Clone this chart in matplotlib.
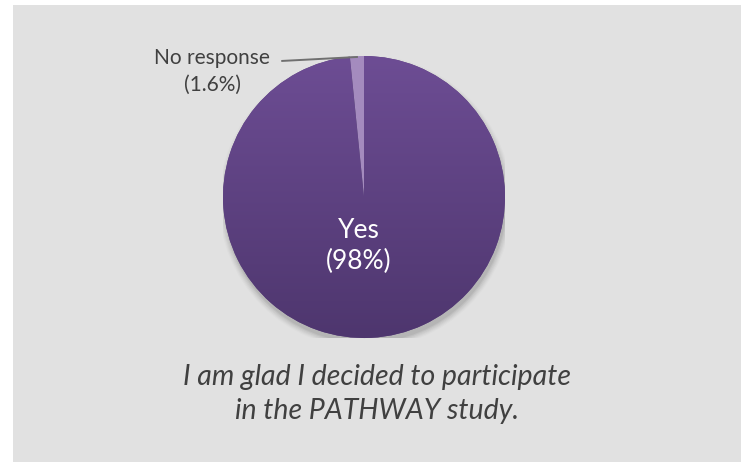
import numpy as np
import matplotlib.pyplot as plt
from matplotlib.patches import Rectangle, Circle

labels = ['No response', 'Yes']
values = [1.6, 98.4]
label_text = ['No response\n(1.6%)', 'Yes\n(98%)']
title = 'I am glad I decided to participate\nin the PATHWAY study.'

plt.rcParams['font.family'] = ['Lato', 'DejaVu Sans']

W, H = 741, 462
fig = plt.figure(figsize=(W / 100, H / 100), dpi=100)
fig.patch.set_facecolor('white')
fig.patches.append(Rectangle((13 / W, 0), 1, (H - 5) / H, transform=fig.transFigure,
                             facecolor='#e1e1e1', edgecolor='none', zorder=-5))

# pie axes: centre (364,197) px, radius 141 px
cx, cy, r = 364, 197, 141
ax = fig.add_axes([(cx - r) / W, (H - cy - r) / H, 2 * r / W, 2 * r / H])
ax.set_facecolor('none')

# soft shadow
for i, a in enumerate(np.linspace(0.05, 0.015, 6)):
    ax.add_patch(Circle((0.01, -0.035), 1 + 0.008 * i, facecolor='black',
                        edgecolor='none', alpha=a, zorder=0))

wedges, _ = ax.pie(values, startangle=90, counterclock=True,
                   colors=['#a48bbe', '#5f4483'], radius=1,
                   wedgeprops=dict(linewidth=0))
for w in wedges:
    w.set_zorder(2)

# vertical gradient on the Yes slice
grad = np.linspace(0, 1, 256)[:, None]
top = np.array([109, 77, 148]) / 255
bot = np.array([78, 54, 110]) / 255
img = top + (bot - top) * grad[..., None] * np.ones((1, 2, 1))
im = ax.imshow(img, extent=[-1, 1, -1, 1], origin='upper', zorder=3,
               interpolation='bilinear', aspect='auto')
im.set_clip_path(wedges[1])

ax.set_xlim(-1, 1)
ax.set_ylim(-1, 1)
ax.set_aspect('auto')
ax.axis('off')

# labels
ax.text(-0.04, -0.35, label_text[1], ha='center', va='center', color='white',
        fontsize=19, linespacing=1.3, zorder=5)
ax.text(-1.078, 0.89, label_text[0], ha='center', va='center', color='#404040',
        fontsize=15, linespacing=1.4, zorder=5, clip_on=False)
ax.plot([-0.58, -0.05], [0.965, 0.993], color='#707070', lw=1.4,
        clip_on=False, zorder=5)

fig.text(377 / W, (H - 394) / H, title, ha='center', va='center', color='#404040',
         fontsize=20.5, style='italic', linespacing=1.4)

fig.savefig('out.png', dpi=100)
